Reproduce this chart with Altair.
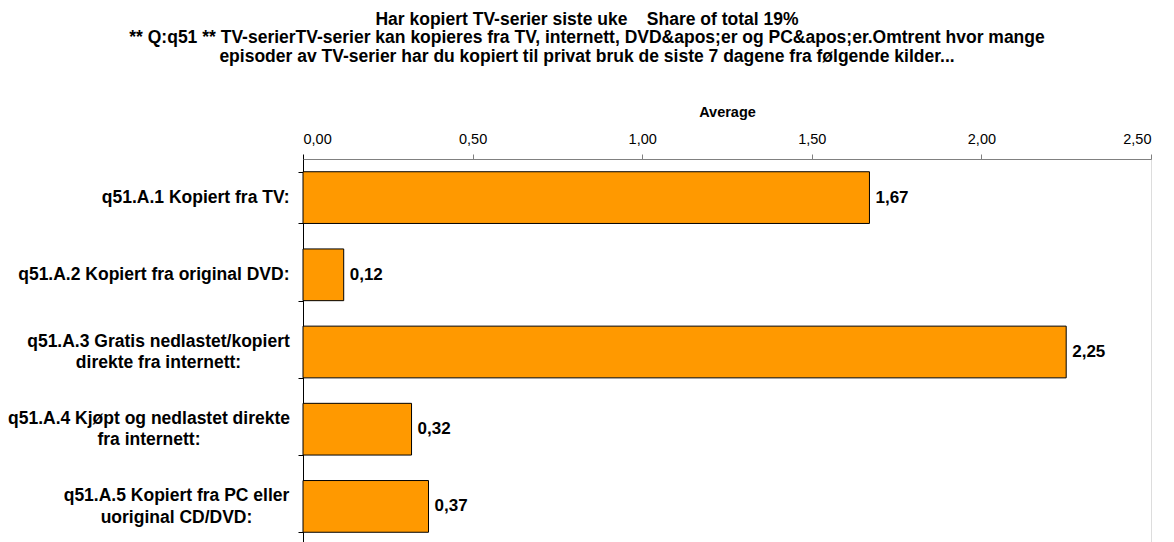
import altair as alt
import pandas as pd

categories = [
    "q51.A.1 Kopiert fra TV:",
    "q51.A.2 Kopiert fra original DVD:",
    "q51.A.3 Gratis nedlastet/kopiert|direkte fra internett:",
    "q51.A.4 Kjøpt og nedlastet direkte|fra internett:",
    "q51.A.5 Kopiert fra PC eller|uoriginal CD/DVD:",
]
values = [1.67, 0.12, 2.25, 0.32, 0.37]
x_ticks = [0.0, 0.5, 1.0, 1.5, 2.0, 2.5]
title_lines = [
    "Har kopiert TV-serier siste uke\u00a0\u00a0\u00a0 Share of total 19%",
    "** Q:q51 ** TV-serierTV-serier kan kopieres fra TV, internett, DVD&apos;er og PC&apos;er.Omtrent hvor mange",
    "episoder av TV-serier har du kopiert til privat bruk de siste 7 dagene fra følgende kilder...",
]

FONT = "Liberation Sans"

df = pd.DataFrame({"label": categories, "value": values})

# multi-line labels: lines centred on each other, block right-aligned at the axis
pad_expr = (
    "indexof(datum.label, '|') < 0 ? 9 : "
    "(indexof(datum.label, 'q51.A.3') == 0 ? 140 : "
    "(indexof(datum.label, 'q51.A.4') == 0 ? 149.5 : 122))"
)

base = alt.Chart(df).transform_calculate(
    vlab="replace(format(datum.value, '.2f'), '.', ',')"
).encode(
    y=alt.Y(
        "label:N",
        sort=categories,
        scale=alt.Scale(paddingInner=0.33, paddingOuter=0.165),
        axis=alt.Axis(
            title=None,
            domainColor="#000000",
            domainWidth=1,
            tickColor="#000000",
            tickSize=5,
            tickBand="extent",
            labelFont=FONT,
            labelFontWeight="bold",
            labelFontSize=17.5,
            labelColor="#000000",
            labelAlign=alt.ExprRef("indexof(datum.label, '|') >= 0 ? 'center' : 'right'"),
            labelPadding=alt.ExprRef(pad_expr),
            labelLineHeight=21.5,
            labelLimit=400,
            labelOffset=alt.ExprRef("indexof(datum.label, '|') >= 0 ? -10.75 : 0"),
            labelExpr="split(datum.label, '|')",
        ),
    )
)

bars = base.mark_bar(color="#FF9900", stroke="#000000", strokeWidth=1).encode(
    x=alt.X(
        "value:Q",
        scale=alt.Scale(domain=[0, 2.5], nice=False),
        axis=alt.Axis(
            orient="top",
            values=x_ticks,
            title="Average",
            titleFont=FONT,
            titleFontWeight="bold",
            titleFontSize=14.5,
            titleColor="#000000",
            titlePadding=12,
            domainColor="#808080",
            tickColor=alt.ExprRef("datum.value == 0 ? '#000000' : '#808080'"),
            tickSize=5,
            grid=False,
            labelFont=FONT,
            labelFontSize=14.5,
            labelColor="#000000",
            labelPadding=8,
            labelExpr="replace(format(datum.value, '.2f'), '.', ',')",
        ),
    )
)

text = base.mark_text(
    align="left", baseline="middle", dx=6, font=FONT, fontWeight="bold", fontSize=17, color="#000000"
).encode(x=alt.X("value:Q"), text="vlab:N")

chart = (
    alt.layer(bars, text)
    .properties(
        width=848,
        height=386,
        autosize=alt.AutoSizeParams(type="none"),
        padding={"left": 295, "top": 151, "right": 14, "bottom": 10},
        title=alt.TitleParams(
            text=title_lines,
            font=FONT,
            fontSize=17.5,
            fontWeight="bold",
            color="#000000",
            anchor="middle",
            dx=-140,
            lineHeight=18.5,
            offset=39,
        ),
    )
    .configure_view(stroke=None)
    .configure(background="#ffffff")
)

chart.save("out.html", embed_options={"renderer": "svg", "actions": False})
